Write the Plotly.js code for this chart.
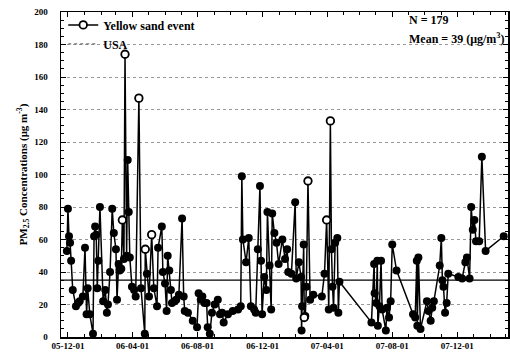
<!DOCTYPE html>
<html>
<head>
<meta charset="utf-8">
<script src="https://cdn.plot.ly/plotly-3.0.1.min.js"></script>
<style>html,body{margin:0;padding:0;background:#fff;}#chart{width:510px;height:356px;}</style>
</head>
<body>
<div id="chart"></div>
<script>
// ---- data ----
const dates = [
'2005-11-29','2005-12-01','2005-12-03','2005-12-05','2005-12-07','2005-12-10','2005-12-16','2005-12-20','2005-12-23','2005-12-29',
'2006-01-02','2006-01-05','2006-01-07','2006-01-11','2006-01-17','2006-01-19','2006-01-21','2006-01-23','2006-01-25','2006-01-27',
'2006-01-30','2006-02-05','2006-02-09','2006-02-12','2006-02-14','2006-02-18','2006-02-22','2006-02-25','2006-03-01','2006-03-03',
'2006-03-06','2006-03-08','2006-03-11','2006-03-13','2006-03-16','2006-03-18','2006-03-21','2006-03-23','2006-03-25','2006-03-27',
'2006-03-31','2006-04-04','2006-04-07','2006-04-13','2006-04-17','2006-04-24','2006-04-25','2006-04-28','2006-05-02','2006-05-07',
'2006-05-11','2006-05-17','2006-05-19','2006-05-26','2006-05-28','2006-06-01','2006-06-04','2006-06-06','2006-06-09','2006-06-12',
'2006-06-14','2006-06-19','2006-06-22','2006-06-27','2006-07-03','2006-07-06','2006-07-08','2006-07-14','2006-07-23','2006-07-31',
'2006-08-03','2006-08-07','2006-08-10','2006-08-14','2006-08-18','2006-08-20','2006-08-24','2006-08-28','2006-09-02','2006-09-08',
'2006-09-12','2006-09-16','2006-09-19','2006-09-27','2006-10-06','2006-10-16','2006-10-21','2006-10-23','2006-10-25','2006-10-31',
'2006-11-05','2006-11-09','2006-11-15','2006-11-18','2006-11-22','2006-11-26','2006-11-28','2006-11-30','2006-12-04','2006-12-08',
'2006-12-10','2006-12-14','2006-12-17','2006-12-19','2006-12-23','2006-12-27','2006-12-31','2007-01-07','2007-01-12','2007-01-16',
'2007-01-18','2007-01-24','2007-01-31','2007-02-02','2007-02-07','2007-02-11','2007-02-12','2007-02-13','2007-02-16','2007-02-17',
'2007-02-19','2007-02-21','2007-02-24','2007-02-28','2007-03-06','2007-03-22','2007-03-27','2007-03-31','2007-04-04','2007-04-07',
'2007-04-09','2007-04-11','2007-04-13','2007-04-16','2007-04-20','2007-04-22','2007-04-24','2007-06-23','2007-06-28','2007-06-29',
'2007-07-02','2007-07-04','2007-07-05','2007-07-08','2007-07-11','2007-07-13','2007-07-20','2007-07-22','2007-07-26','2007-07-29',
'2007-08-01','2007-08-09','2007-09-09','2007-09-13','2007-09-16','2007-09-17','2007-09-19','2007-09-23','2007-10-05','2007-10-08',
'2007-10-12','2007-10-15','2007-10-18','2007-10-29','2007-11-01','2007-11-03','2007-11-05','2007-11-08','2007-11-11','2007-11-14',
'2007-12-03','2007-12-10','2007-12-16','2007-12-19','2007-12-24','2007-12-27','2007-12-30','2008-01-02','2008-01-05','2008-01-11',
'2008-01-16','2008-01-23','2008-02-26'
];
const pm25 = [
53,79,62,58,47,29,19,21,22,25,
55,14,30,14,2,62,68,63,30,47,
80,22,29,15,20,40,79,64,54,23,
45,41,42,72,48,174,50,109,77,49,
31,29,25,147,30,2,54,39,25,63,
30,19,55,68,40,33,16,50,41,29,
21,22,23,26,73,25,16,15,10,6,
27,23,25,21,21,6,2,15,20,23,
14,15,9,14,16,17,19,99,60,46,
61,19,17,15,54,93,47,14,37,29,
77,44,17,76,64,58,45,60,48,54,
40,39,83,36,46,37,4,19,57,12,
13,31,96,23,26,25,39,72,17,133,
54,31,18,58,61,15,34,9,45,27,
21,47,7,19,47,17,4,18,12,22,
57,41,14,12,47,7,49,5,22,16,
10,18,22,44,61,35,31,15,21,39,
37,36,46,49,36,80,66,72,59,59,
111,53,62
];
// 1 = yellow sand event
const yellowSand = [
0,0,0,0,0,0,0,0,0,0,
0,0,0,0,0,0,0,0,0,0,
0,0,0,0,0,0,0,0,0,0,
0,0,0,1,0,1,0,0,0,0,
0,0,0,1,0,0,1,0,0,1,
0,0,0,0,0,0,0,0,0,0,
0,0,0,0,0,0,0,0,0,0,
0,0,0,0,0,0,0,0,0,0,
0,0,0,0,0,0,0,0,0,0,
0,0,0,0,0,0,0,0,0,0,
0,0,0,0,0,0,0,0,0,0,
0,0,0,0,0,0,0,0,0,1,
0,0,1,0,0,0,0,1,0,1,
0,0,0,0,0,0,0,0,0,0,
0,0,0,0,0,0,0,0,0,0,
0,0,0,0,0,0,0,0,0,0,
0,0,0,0,0,0,0,0,0,0,
0,0,0,0,0,0,0,0,0,0,
0,0,0
];
const USA_STANDARD = 35;
const xTickDates = ['2005-12-01','2006-04-01','2006-08-01','2006-12-01','2007-04-01','2007-08-01','2007-12-01'];
const xRange = ['2005-11-18','2008-03-05'];
const annN = 'N = 179';
const annMean = 'Mean = 39 (μg/m<sup>3</sup>)';

// ---- build traces ----
const evX = [], evY = [];
dates.forEach((d, i) => { if (yellowSand[i]) { evX.push(d); evY.push(pm25[i]); } });

const serif = 'Liberation Serif, Times New Roman, serif';

const traces = [
  { x: dates, y: pm25, type: 'scatter', mode: 'lines+markers', showlegend: false,
    line: { color: '#000', width: 1.5 },
    marker: { color: '#000', size: 8, symbol: 'circle' } },
  { x: evX, y: evY, type: 'scatter', mode: 'markers', showlegend: false,
    marker: { color: '#fff', size: 7.5, symbol: 'circle', line: { color: '#000', width: 1.8 } } },
  { x: [null], y: [null], type: 'scatter', mode: 'lines+markers', name: 'Yellow sand event',
    line: { color: '#000', width: 1.5 },
    marker: { color: '#fff', size: 7.5, line: { color: '#000', width: 1.8 } } },
  { x: [null], y: [null], type: 'scatter', mode: 'lines', name: 'USA',
    line: { color: '#555', width: 1, dash: 'dot' } }
];

const layout = {
  width: 510, height: 356,
  margin: { l: 61, r: 2, t: 12, b: 19 },
  paper_bgcolor: '#fff', plot_bgcolor: '#fff',
  font: { family: serif, color: '#000' },
  showlegend: true,
  legend: { x: 0.005, y: 1.005, xanchor: 'left', yanchor: 'top', bgcolor: 'rgba(0,0,0,0)',
    font: { family: serif, size: 12, color: '#000', weight: 'bold' }, tracegroupgap: 0 },
  xaxis: {
    type: 'date', range: xRange,
    tickvals: xTickDates, tickformat: '%y-%m-%d',
    ticks: 'inside', ticklen: 5, tickcolor: '#000', tickwidth: 1,
    minor: { dtick: 'M1', ticks: 'inside', ticklen: 3, tickcolor: '#000' },
    showgrid: false, zeroline: false,
    showline: true, linecolor: '#000', linewidth: 1.5, mirror: 'allticks',
    tickfont: { family: serif, size: 9, color: '#000', weight: 'bold' }
  },
  yaxis: {
    range: [0, 200], dtick: 20,
    ticks: 'inside', ticklen: 5, tickcolor: '#000', tickwidth: 1,
    minor: { dtick: 5, ticks: 'inside', ticklen: 3, tickcolor: '#000' },
    showgrid: true, gridcolor: '#999', griddash: 'dot', gridwidth: 1,
    zeroline: false,
    showline: true, linecolor: '#000', linewidth: 1.5, mirror: 'allticks',
    ticklabelstandoff: 10,
    tickfont: { family: serif, size: 9, color: '#000', weight: 'bold' },
    title: { text: 'PM<sub>2.5</sub> Concentrations (μg m<sup>-3</sup>)', standoff: 4,
      font: { family: serif, size: 11, color: '#000', weight: 'bold' } }
  },
  shapes: [
    { type: 'line', xref: 'paper', x0: 0, x1: 1, yref: 'y', y0: USA_STANDARD, y1: USA_STANDARD,
      line: { color: '#000', width: 1.2 }, layer: 'below' }
  ],
  annotations: [
    { xref: 'paper', yref: 'paper', x: 0.775, y: 0.975, xanchor: 'left', yanchor: 'middle',
      text: annN, showarrow: false, font: { family: serif, size: 12, color: '#000', weight: 'bold' } },
    { xref: 'paper', yref: 'paper', x: 0.775, y: 0.918, xanchor: 'left', yanchor: 'middle',
      text: annMean, showarrow: false, font: { family: serif, size: 12, color: '#000', weight: 'bold' } }
  ]
};

Plotly.newPlot('chart', traces, layout, { displayModeBar: false, staticPlot: true });
</script>
</body>
</html>
